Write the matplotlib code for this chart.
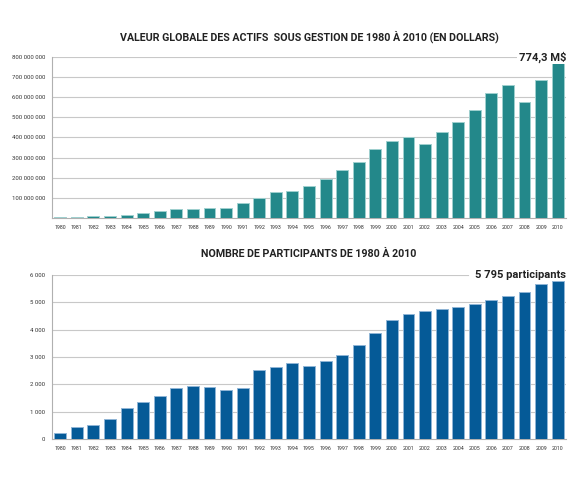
import matplotlib.pyplot as plt
from matplotlib.ticker import FuncFormatter

# Data
years = list(range(1980, 2011))
actifs = [3e6, 6e6, 9e6, 12e6, 17e6, 25e6, 33e6, 43e6, 46e6, 50e6, 50e6,
          75e6, 99e6, 131e6, 136e6, 157e6, 196e6, 237e6, 279e6, 343e6, 381e6,
          400e6, 366e6, 428e6, 479e6, 537e6, 622e6, 662e6, 574e6, 687e6, 774.3e6]
participants = [219, 426, 511, 742, 1131, 1363, 1582, 1861, 1922, 1886, 1800,
                1861, 2518, 2640, 2786, 2676, 2847, 3054, 3443, 3869, 4343,
                4574, 4684, 4745, 4818, 4939, 5085, 5219, 5389, 5657, 5795]

title_top = "VALEUR GLOBALE DES ACTIFS  SOUS GESTION DE 1980 À 2010 (EN DOLLARS)"
title_bottom = "NOMBRE DE PARTICIPANTS DE 1980 À 2010"
label_top = "774,3 M$"
label_bottom = "5 795 participants"

plt.rcParams['font.family'] = ['Roboto', 'DejaVu Sans']


def space_fmt(v, pos):
    return f"{int(round(v)):,}".replace(",", " ")


def draw_panel(ax, values, ymax, step, color, edge, label, title, title_y, line_end, show_zero):
    x = list(range(len(years)))
    ax.bar(x, values, width=0.72, color=color, edgecolor=edge, linewidth=0.7, zorder=3)
    ax.set_xlim(-0.5, 30.5)
    ax.set_ylim(0, ymax)
    ticks = [i * step for i in range(int(ymax / step) + 1)]
    if not show_zero:
        ticks = ticks[1:]
    ax.set_yticks(ticks)
    ax.yaxis.set_major_formatter(FuncFormatter(space_fmt))
    ax.set_xticks(x)
    ax.set_xticklabels([str(y) for y in years], fontsize=3.8, color="#333333")
    ax.tick_params(axis="y", labelsize=4.3, length=0, pad=5, colors="#333333")
    ax.tick_params(axis="x", length=0, pad=5)
    for t in ticks[:-1]:
        if t > 0:
            ax.axhline(t, color="#c8c8c8", linewidth=0.8, zorder=1)
    ax.axhline(ticks[-1], xmax=line_end, color="#c8c8c8", linewidth=0.8, zorder=1)
    for s in ["top", "right"]:
        ax.spines[s].set_visible(False)
    for s in ["left", "bottom"]:
        ax.spines[s].set_color("#b0b0b0")
        ax.spines[s].set_linewidth(0.8)
    ax.text(1.0, 1.0, label, transform=ax.transAxes, ha="right", va="center",
            fontsize=8, fontweight="bold", color="#222222",
            bbox=dict(facecolor="white", edgecolor="none", pad=1))
    ax.figure.text((ax.get_position().x0 + ax.get_position().x1) / 2, title_y, title,
                   ha="center", va="center", fontsize=7.7, fontweight="bold", color="#222222")


fig = plt.figure(figsize=(5.76, 4.91), dpi=100)
ax1 = fig.add_axes([0.0903, 0.556, 0.8923, 0.328])
ax2 = fig.add_axes([0.0903, 0.106, 0.8923, 0.334])

draw_panel(ax1, actifs, 800e6, 100e6, "#23888a", "#9fd0cf", label_top, title_top, 0.925, 0.91, False)
draw_panel(ax2, participants, 6000, 1000, "#055a97", "#8fb5d6", label_bottom, title_bottom, 0.483, 0.81, True)

fig.savefig("out.png", dpi=100)
